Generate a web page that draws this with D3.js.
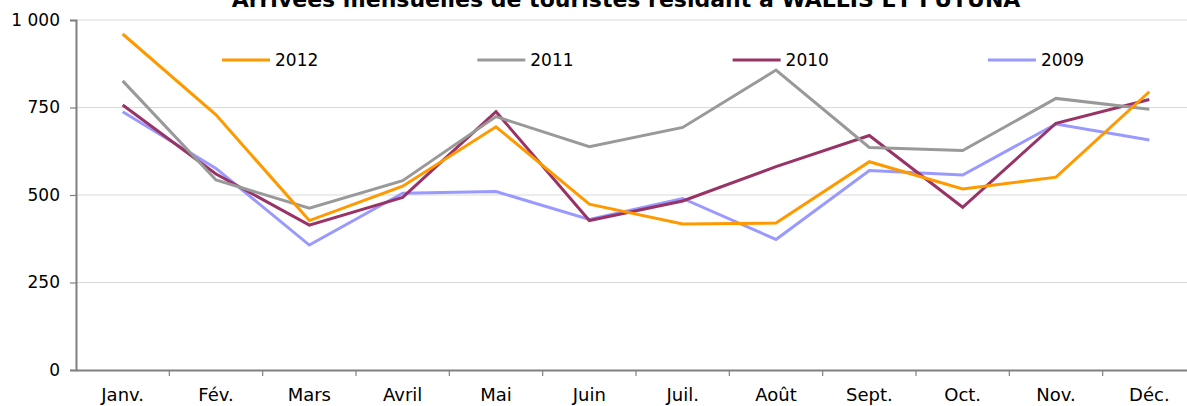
<!DOCTYPE html>
<html>
<head>
<meta charset="utf-8">
<script src="https://cdn.jsdelivr.net/npm/d3@7"></script>
<style>
  html, body { margin: 0; padding: 0; background: #fff; }
  svg { display: block; font-family: "DejaVu Sans", Verdana, sans-serif; }
</style>
</head>
<body>
<div id="chart"></div>
<script>
  const title = "Arrivées mensuelles de touristes résidant à WALLIS ET FUTUNA";
  const months = ["Janv.", "Fév.", "Mars", "Avril", "Mai", "Juin", "Juil.", "Août", "Sept.", "Oct.", "Nov.", "Déc."];
  const yTicks = [0, 250, 500, 750, 1000];
  const years = ["2012", "2011", "2010", "2009"];
  const colors = ["#FF9900", "#999999", "#993366", "#9999FF"];

  const v2012 = [960, 729, 427, 525, 695, 474, 417, 420, 595, 517, 551, 795];
  const v2011 = [826, 543, 462, 541, 724, 638, 693, 857, 636, 627, 776, 745];
  const v2010 = [757, 560, 414, 493, 738, 427, 483, 581, 670, 465, 705, 773];
  const v2009 = [738, 576, 357, 505, 510, 430, 490, 373, 570, 557, 703, 657];
  const values = [v2012, v2011, v2010, v2009];

  const W = 1187, H = 406;
  const margin = { top: 20, left: 76, bottom: 36 };
  const plotW = 1120, plotH = H - margin.top - margin.bottom;

  const svg = d3.select("#chart").append("svg")
    .attr("width", W).attr("height", H);

  const x = d3.scaleBand().domain(months).range([margin.left, margin.left + plotW]);
  const y = d3.scaleLinear().domain([0, 1000]).range([margin.top + plotH, margin.top]);

  // gridlines
  svg.append("g").selectAll("line")
    .data(yTicks.filter(d => d > 0))
    .join("line")
    .attr("x1", margin.left).attr("x2", margin.left + plotW)
    .attr("y1", d => y(d)).attr("y2", d => y(d))
    .attr("stroke", "#d9d9d9").attr("stroke-width", 1.2);

  // y axis
  const yAxis = svg.append("g")
    .attr("transform", `translate(${margin.left},0)`)
    .call(d3.axisLeft(y).tickValues(yTicks).tickSize(6).tickPadding(10)
      .tickFormat(d => d3.format(",")(d).replace(",", " ")));
  yAxis.select(".domain").attr("stroke", "#808080").attr("stroke-width", 2);
  yAxis.selectAll(".tick line").attr("stroke", "#808080").attr("stroke-width", 1.2);
  yAxis.selectAll("text").attr("font-size", 17).attr("fill", "#000")
    .attr("font-family", "DejaVu Sans, Verdana, sans-serif");

  // x axis
  const xAxis = svg.append("g")
    .attr("transform", `translate(0,${y(0)})`)
    .call(d3.axisBottom(x).tickSize(0).tickPadding(18));
  xAxis.select(".domain").attr("stroke", "#808080").attr("stroke-width", 2);
  xAxis.selectAll("text").attr("font-size", 18).attr("fill", "#000")
    .attr("font-family", "DejaVu Sans, Verdana, sans-serif");
  xAxis.selectAll(".sep")
    .data(months.slice(1))
    .join("line")
    .attr("class", "sep")
    .attr("x1", d => x(d)).attr("x2", d => x(d))
    .attr("y1", 0).attr("y2", 6)
    .attr("stroke", "#808080").attr("stroke-width", 1.2);

  // lines
  const line = d3.line()
    .x((d, i) => x(months[i]) + x.bandwidth() / 2)
    .y(d => y(d));

  // draw 2009 first so 2012 ends on top
  years.map((yr, k) => k).reverse().forEach(k => {
    svg.append("path")
      .datum(values[k])
      .attr("fill", "none")
      .attr("stroke", colors[k])
      .attr("stroke-width", 3)
      .attr("stroke-linejoin", "miter")
      .attr("d", line);
  });

  // legend
  const legend = svg.append("g").attr("transform", "translate(222,60)");
  years.forEach((yr, k) => {
    const g = legend.append("g").attr("transform", `translate(${k * 255.3},0)`);
    g.append("line").attr("x1", 0).attr("x2", 48).attr("y1", 0).attr("y2", 0)
      .attr("stroke", colors[k]).attr("stroke-width", 3);
    g.append("text").attr("x", 53).attr("y", 6)
      .attr("font-size", 17).attr("fill", "#000").text(yr);
  });

  // title (partly above the frame, as in the source)
  svg.append("text")
    .attr("x", 626).attr("y", 7)
    .attr("text-anchor", "middle")
    .attr("font-size", 22).attr("font-weight", "bold")
    .text(title);
</script>
</body>
</html>
